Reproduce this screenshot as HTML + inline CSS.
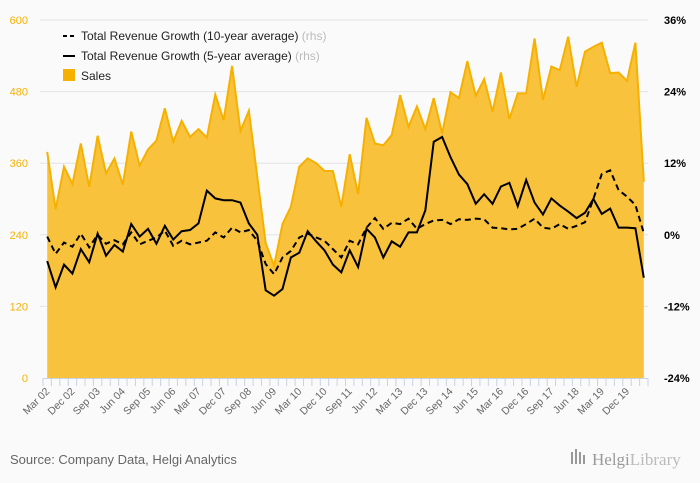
<!DOCTYPE html>
<html><head><meta charset="utf-8">
<style>
body{margin:0;background:#fafafa;font-family:"Liberation Sans",sans-serif;}
svg{display:block}
</style></head>
<body>
<svg id="chart" width="700" height="483" xmlns="http://www.w3.org/2000/svg">
<rect x="0" y="0" width="700" height="483" fill="#fafafa"/>
<g id="grid"></g>
<g id="area"></g>
<g id="lines"></g>
<g id="axes"></g>
<g>
  <g>
    <line x1="63" y1="36" x2="75" y2="36" stroke="#000" stroke-width="2" stroke-dasharray="4,3"/>
    <text x="81" y="40" font-size="12" fill="#222">Total Revenue Growth (10-year average) <tspan fill="#bbb">(rhs)</tspan></text>
  </g>
  <g>
    <line x1="63" y1="56" x2="75" y2="56" stroke="#000" stroke-width="2"/>
    <text x="81" y="60" font-size="12" fill="#222">Total Revenue Growth (5-year average) <tspan fill="#bbb">(rhs)</tspan></text>
  </g>
  <g>
    <rect x="63" y="69" width="12" height="12" fill="#f6b100"/>
    <text x="81" y="80" font-size="12" fill="#222">Sales</text>
  </g>
</g>
<text x="10" y="464" font-size="13" fill="#666">Source: Company Data, Helgi Analytics</text>
<g>
  <rect x="571" y="452" width="2" height="12" fill="#999"/><rect x="575" y="449" width="2" height="15" fill="#999"/><rect x="579" y="452" width="2" height="12" fill="#999"/><rect x="583" y="455" width="2" height="9" fill="#999"/>
  <text x="592" y="465" font-size="17" fill="#999" font-family="Liberation Serif,serif">Helgi<tspan fill="#bbb">Library</tspan></text>
</g>
</svg>
<script>
const labels=["Mar 02","Dec 02","Sep 03","Jun 04","Sep 05","Jun 06","Mar 07","Dec 07","Sep 08","Jun 09","Mar 10","Dec 10","Sep 11","Jun 12","Mar 13","Dec 13","Sep 14","Jun 15","Mar 16","Dec 16","Sep 17","Jun 18","Mar 19","Dec 19"];
const sales=[379,283,354,325,393,320,406,343,368,324,413,356,383,398,452,396,431,404,417,403,475,432,523,414,448,337,226,188,258,287,354,368,360,347,347,287,375,308,436,393,390,407,474,421,455,417,469,410,479,469,531,473,501,446,512,434,477,477,569,466,522,516,572,488,547,555,562,511,512,498,562,329];
const growth5=[-4.4,-8.8,-5.0,-6.5,-2.4,-4.6,0.2,-3.5,-1.7,-2.8,1.8,-0.3,1.0,-1.5,1.5,-0.8,0.6,0.8,1.9,7.4,6.1,5.8,5.8,5.4,1.9,0.0,-9.3,-10.2,-9.1,-3.8,-3.0,0.6,-1.1,-2.6,-5.0,-6.3,-2.6,-5.4,1.0,-0.45,-3.8,-1.1,-2.0,0.4,0.4,4.1,15.6,16.4,13.0,10.1,8.5,5.2,6.8,5.2,8.1,8.7,4.8,9.2,5.4,3.4,6.1,4.9,3.9,2.8,3.7,6.0,3.5,4.4,1.2,1.2,1.1,-7.2];
const growth10=[-0.3,-3.2,-1.3,-2.0,0.2,-2.1,0.0,-1.5,-0.9,-1.6,0.4,-1.6,-1.0,-0.45,0.7,-1.85,-1.0,-1.6,-1.3,-1.0,0.4,-0.45,1.2,0.4,0.8,-1.0,-4.9,-6.6,-3.8,-2.7,-0.45,0.2,-0.45,-1.0,-2.4,-3.8,-1.0,-1.6,1.2,2.8,1.0,2.0,1.8,2.7,1.0,1.8,2.4,2.5,1.8,2.6,2.5,2.7,2.6,1.2,1.1,0.9,1.0,1.8,2.7,1.2,1.0,1.8,1.0,1.5,2.1,6.0,10.2,10.8,7.5,6.4,5.0,0.3];
const leftTicks=[0,120,240,360,480,600];
const rightTicks=["-24%","-12%","0%","12%","24%","36%"];
const rightVals=[-24,-12,0,12,24,36];

const NS="http://www.w3.org/2000/svg";
const X0=43,X1=648,Y0=378,Y1=20;
const n=sales.length, bw=(X1-X0)/n;
const xs=i=>X0+bw*(i+0.5);
const yL=v=>Y0-(v/600)*(Y0-Y1);
const yR=g=>Y0-((g+24)/60)*(Y0-Y1);
function mk(tag,attrs,parent){const e=document.createElementNS(NS,tag);for(const k in attrs)e.setAttribute(k,attrs[k]);parent.appendChild(e);return e;}
const grid=document.getElementById('grid'),area=document.getElementById('area'),lines=document.getElementById('lines'),axes=document.getElementById('axes');
leftTicks.forEach((t,i)=>{
  const y=yL(t);
  if(t>0){const l=mk('line',{x1:40,x2:X1,y1:y,y2:y,stroke:'#e3e3e3','stroke-width':1},grid);
  
  }
  const tx=mk('text',{x:28,y:y+4,'font-size':11,fill:'#f6b100','text-anchor':'end'},axes);
  tx.textContent=t;
  
  
});
rightVals.forEach((g,i)=>{
  const tx=mk('text',{x:664,y:yR(g)+4,'font-size':11,fill:'#000','font-weight':'bold','text-anchor':'start'},axes);
  tx.textContent=rightTicks[i];
  
  
});
let d='M'+xs(0)+','+Y0;
sales.forEach((v,i)=>{d+=' L'+xs(i)+','+yL(v);});
d+=' L'+xs(n-1)+','+Y0+' Z';
const ap=mk('path',{d:d,fill:'#f9c23c',stroke:'none'},area);


const sl=mk('polyline',{points:sales.map((v,i)=>xs(i)+','+yL(v)).join(' '),fill:'none',stroke:'#f6b100','stroke-width':2},area);


const l10=mk('polyline',{points:growth10.map((g,i)=>xs(i)+','+yR(g)).join(' '),fill:'none',stroke:'#000','stroke-width':2,'stroke-dasharray':'6,4'},lines);


const l5=mk('polyline',{points:growth5.map((g,i)=>xs(i)+','+yR(g)).join(' '),fill:'none',stroke:'#000','stroke-width':2},lines);


const ax=mk('line',{x1:X0,x2:X1,y1:Y0+0.5,y2:Y0+0.5,stroke:'#c8d3e6','stroke-width':1},axes);


for(let i=0;i<=n;i++){
  const x=X0+bw*i;
  const tk=mk('line',{x1:x,x2:x,y1:Y0,y2:Y0+8,stroke:'#c8d3e6','stroke-width':1},axes);
  
  
}
labels.forEach((lb,j)=>{
  const x=xs(j*3)+3, y=Y0+14;
  const tx=mk('text',{x:x,y:y,'font-size':10.5,fill:'#666','text-anchor':'end',transform:'rotate(-45 '+x+' '+y+')'},axes);
  tx.textContent=lb;
  
  
});
</script>
</body></html>
